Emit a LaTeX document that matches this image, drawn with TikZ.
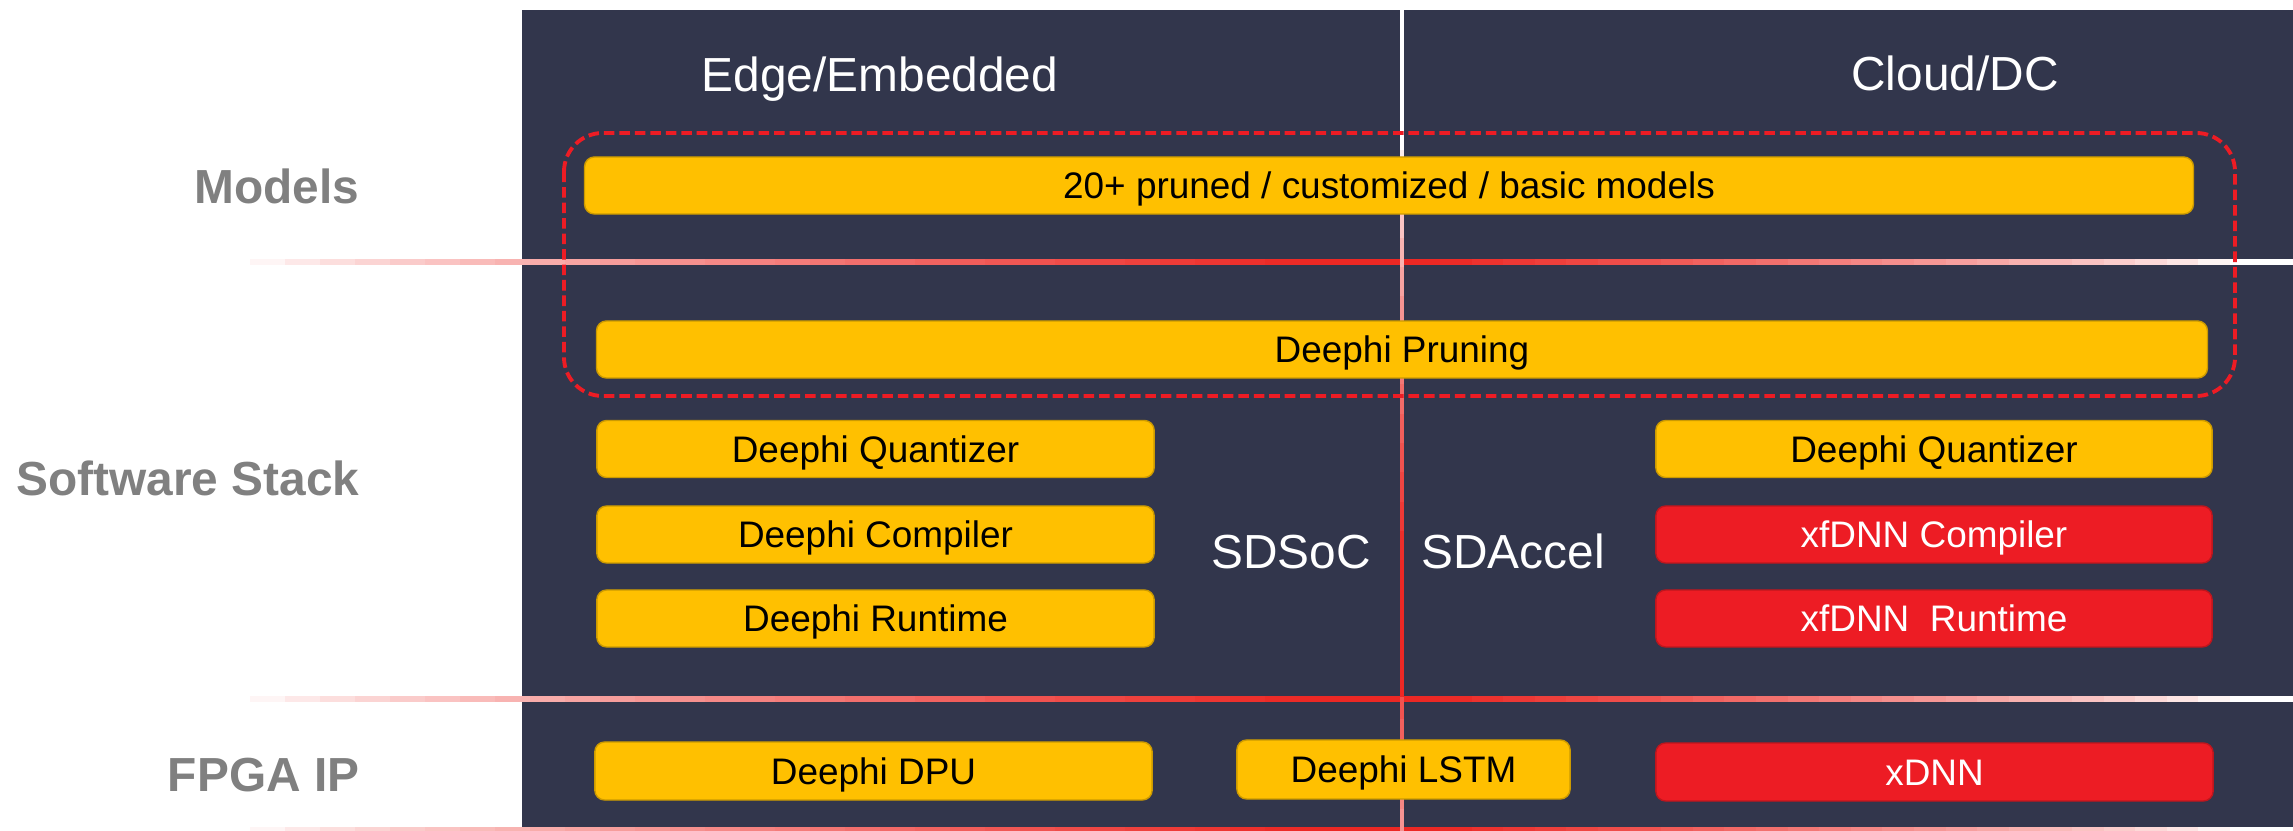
\documentclass[tikz,border=0pt]{standalone}
\usepackage{fontspec}
\setmainfont{Liberation Sans}
\definecolor{panel}{RGB}{50,54,76}
\definecolor{ambr}{RGB}{255,192,0}
\definecolor{xred}{RGB}{237,28,36}
\definecolor{sepred}{RGB}{236,40,36}
\definecolor{lblgray}{RGB}{128,128,128}
\tikzset{
  blk/.style={rounded corners=2.8pt, inner sep=0pt, minimum height=0.57cm,
    text height=7.52pt, text depth=0pt, font=\fontsize{10.5}{12}\selectfont},
  ybox/.style={blk, fill=ambr, draw=ambr!80!black, line width=0.4pt, text=black},
  rbox/.style={blk, fill=xred, draw=xred!80!black, line width=0.4pt, text=white},
  hdr/.style={text=white, font=\fontsize{13.6}{16}\selectfont, inner sep=0pt, anchor=base},
  lbl/.style={text=lblgray, font=\fontsize{13.6}{16}\selectfont\bfseries, inner sep=0pt, anchor=base east},
  dashbox/.style={draw=xred, line width=1.1pt, dash pattern=on 3pt off 1.4pt, rounded corners=11pt}
}
\begin{document}
\begin{tikzpicture}[x=0.01cm, y=-0.01cm]
  \useasboundingbox (0,0) rectangle (2293,831);
  \fill[panel] (522,10) rectangle (2293,831);
  \foreach \yy in {262,699,830} {
    \foreach \i in {0,...,29} {
      \pgfmathsetmacro\pc{100*((\i+0.5)/30)^0.75}
      \fill[sepred!\pc!white] ({250+35*\i},{\yy-2.6}) rectangle ({285.5+35*\i},{\yy+2.6});
    }
    \fill[sepred] (1300,{\yy-2.6}) rectangle (1440,{\yy+2.6});
    \foreach \i in {0,...,24} {
      \pgfmathsetmacro\pc{100*(1-(\i+0.5)/25)^0.75}
      \fill[sepred!\pc!white] ({1440+31.6*\i},{\yy-2.6}) rectangle ({1472+31.6*\i},{\yy+2.6});
    }
    \fill[white] (2230,{\yy-2.6}) rectangle (2293,{\yy+2.6});
  }
  \fill[white] (1400,10) rectangle (1404,150);
  \foreach \i in {0,...,13} {
    \pgfmathsetmacro\pc{100*((\i+0.5)/14)^0.75}
    \fill[sepred!\pc!white] (1400,{150+29.3*\i}) rectangle (1404,{180+29.3*\i});
  }
  \fill[sepred] (1400,560) rectangle (1404,697);
  \foreach \i in {0,...,5} {
    \pgfmathsetmacro\pc{80-6*\i}
    \fill[sepred!\pc!white] (1400,{697+22.4*\i}) rectangle (1404,{720+22.4*\i});
  }
  \draw[dashbox] (564,133) rectangle (2235,396);

  \node[hdr] (edge) at (880,92) {Edge/Embedded};
  \node[hdr] (cloud) at (1955,91) {Cloud/DC};
  \node[lbl] (lmod) at (360,204) {Models};
  \node[lbl] (lsw) at (360,496) {Software Stack};
  \node[lbl] (lfpga) at (360,792) {FPGA IP};

  \node[ybox, minimum width=16.08cm] (models) at (1389,185.5) {20+ pruned / customized / basic models};
  \node[ybox, minimum width=16.10cm] (prune) at (1402,349.5) {Deephi Pruning};
  \node[ybox, minimum width=5.57cm] (dquant) at (875.5,449) {Deephi Quantizer};
  \node[ybox, minimum width=5.57cm] (dcomp) at (875.5,534.5) {Deephi Compiler};
  \node[ybox, minimum width=5.57cm] (drun) at (875.5,618.5) {Deephi Runtime};
  \node[hdr] (sdsoc) at (1291,569) {SDSoC};
  \node[hdr] (sdacc) at (1513,569) {SDAccel};
  \node[ybox, minimum width=5.56cm] (xquant) at (1934,449) {Deephi Quantizer};
  \node[rbox, minimum width=5.56cm] (xcomp) at (1934,534.5) {xfDNN Compiler};
  \node[rbox, minimum width=5.56cm] (xrun) at (1934,618.5) {xfDNN\ \ Runtime};

  \node[ybox, minimum width=5.57cm, minimum height=0.58cm] (dpu) at (873.5,771) {Deephi DPU};
  \node[ybox, minimum width=3.33cm, minimum height=0.59cm] (lstm) at (1403.5,769.5) {Deephi LSTM};
  \node[rbox, minimum width=5.57cm, minimum height=0.58cm] (xdnn) at (1934.5,772) {xDNN};
\end{tikzpicture}
\end{document}
